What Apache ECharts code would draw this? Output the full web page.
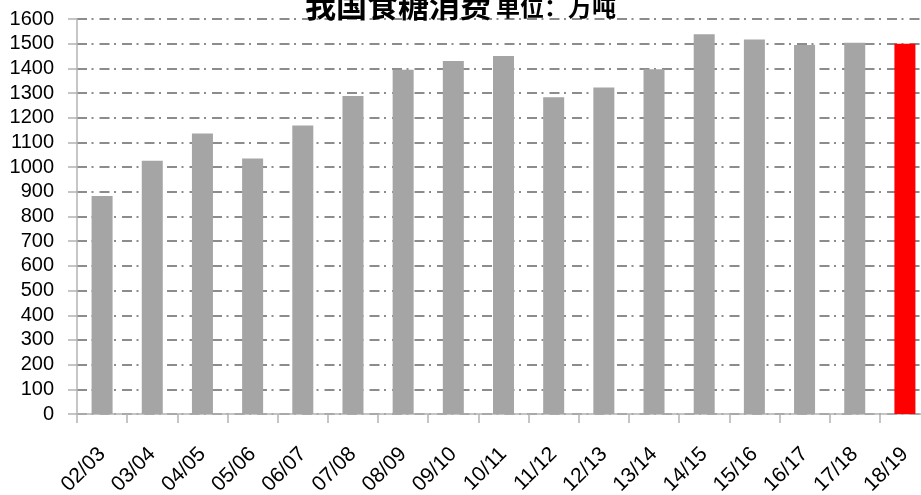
<!DOCTYPE html>
<html>
<head>
<meta charset="utf-8">
<style>
  html, body { margin: 0; padding: 0; background: #fff; }
  #chart { width: 921px; height: 495px; }
</style>
<script src="https://cdn.jsdelivr.net/npm/echarts@6/dist/echarts.min.js"></script>
</head>
<body>
<div id="chart"></div>
<script>
// Marketing years (crop seasons)
const seasons = ['02/03', '03/04', '04/05', '05/06', '06/07', '07/08', '08/09', '09/10', '10/11',
                 '11/12', '12/13', '13/14', '14/15', '15/16', '16/17', '17/18', '18/19'];
// Sugar consumption, 10k tonnes
const consumption = [883, 1026, 1136, 1035, 1169, 1288, 1394, 1430, 1450,
                     1283, 1323, 1396, 1538, 1517, 1495, 1504, 1500];
// The latest season is highlighted
const highlightSeason = '18/19';
const yTicks = { min: 0, max: 1600, interval: 100 };

const barColor = '#a5a5a5';
const highlightColor = '#ff0000';
const fontFamily = '"Liberation Sans", Arial, sans-serif';

const chart = echarts.init(document.getElementById('chart'), null, { renderer: 'canvas' });

chart.setOption({
  animation: false,
  backgroundColor: '#ffffff',
  title: {
    text: '{main|我国食糖消费} {unit|单位：万吨}',
    left: 'center',
    top: -15,
    textStyle: {
      rich: {
        main: { fontSize: 31, fontWeight: 'bold', color: '#000', fontFamily: '"Noto Sans CJK SC", sans-serif', verticalAlign: 'bottom' },
        unit: { fontSize: 24, color: '#000', fontFamily: '"Noto Sans CJK SC", sans-serif', verticalAlign: 'bottom', padding: [0, 0, 2, 0] }
      }
    }
  },
  grid: { left: 77, right: -9, top: 19, bottom: 81, containLabel: false, outerBoundsMode: 'none' },
  xAxis: {
    type: 'category',
    data: seasons,
    axisLine: { lineStyle: { color: '#b3b3b3', width: 1.5 } },
    axisTick: { show: true, length: 9, lineStyle: { color: '#b3b3b3', width: 1.5 } },
    axisLabel: { rotate: 45, margin: 37, fontSize: 21, color: '#000', fontFamily: fontFamily, interval: 0, hideOverlap: false },
    splitLine: { show: false }
  },
  yAxis: {
    type: 'value',
    min: yTicks.min,
    max: yTicks.max,
    interval: yTicks.interval,
    axisLine: { show: true, lineStyle: { color: '#b3b3b3', width: 1.5 } },
    axisTick: { show: true, length: 9, lineStyle: { color: '#b3b3b3', width: 1.5 } },
    axisLabel: { margin: 23, fontSize: 20, color: '#000', fontFamily: fontFamily, formatter: v => String(v) },
    splitLine: {
      show: true,
      lineStyle: { color: '#8c8c8c', width: 2, type: [10, 4.5, 2, 6] }
    }
  },
  series: [{
    type: 'bar',
    barWidth: 21,
    data: consumption.map((v, i) => ({
      value: v,
      itemStyle: { color: seasons[i] === highlightSeason ? highlightColor : barColor }
    }))
  }]
});
</script>
</body>
</html>
